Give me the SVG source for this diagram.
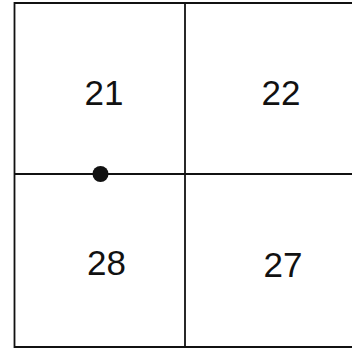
<svg xmlns="http://www.w3.org/2000/svg" width="352" height="350" viewBox="0 0 352 350">
<style>
.ln{stroke:#111;stroke-width:1.8;fill:none}
.lb{font-family:"Liberation Sans",Arial,sans-serif;font-size:35px;fill:#111;text-anchor:middle}
</style>
<rect width="352" height="350" fill="#fff"/>
<g id="cells">
<g id="n21"><text class="lb" x="104" y="105">21</text></g>
<g id="n22"><text class="lb" x="281" y="105">22</text></g>
<g id="n28"><text class="lb" x="106.5" y="275">28</text></g>
<g id="n27"><text class="lb" x="283" y="277">27</text></g>
</g>
<g id="connectors">
<polyline class="ln" points="352,3 14.5,3 14.5,347 352,347"/>
<line class="ln" x1="185" y1="3" x2="185" y2="347"/>
<line class="ln" x1="14.5" y1="174" x2="352" y2="174"/>
</g>
<g id="dot"><circle cx="100.5" cy="174" r="8" fill="#111"/></g>
</svg>
